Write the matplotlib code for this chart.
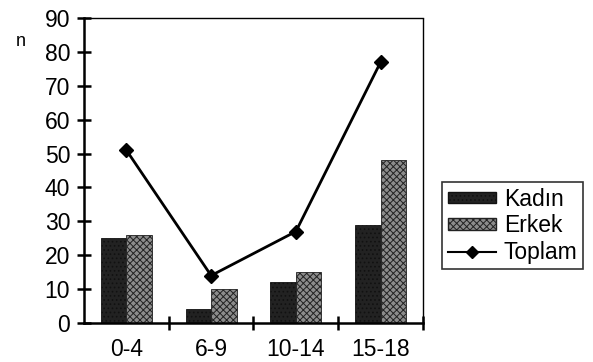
import matplotlib
matplotlib.use("Agg")
import matplotlib.pyplot as plt
import numpy as np
from matplotlib.lines import Line2D
from matplotlib.patches import Patch

categories = ["0-4", "6-9", "10-14", "15-18"]
kadin = [25, 4, 12, 29]
erkek = [26, 10, 15, 48]
toplam = [51, 14, 27, 77]
yticks = [0, 10, 20, 30, 40, 50, 60, 70, 80, 90]

plt.rcParams['font.family'] = ['Liberation Sans', 'DejaVu Sans']
plt.rcParams['hatch.linewidth'] = 0.7

K_FACE, K_EDGE, K_HATCH = '#222222', '#111111', '....'
E_FACE, E_EDGE, E_HATCH = '#8c8c8c', '#222222', 'xxxxx'
FS = 16.5

fig = plt.figure(figsize=(5.93, 3.62), dpi=100)
fig.patch.set_facecolor('white')
ax = fig.add_axes([84/593, 39/362, 339/593, 305/362])

x = np.arange(len(categories))
w = 0.3
ax.bar(x - w/2, kadin, width=w, color=K_FACE, edgecolor=K_EDGE, linewidth=0.6,
       hatch=K_HATCH, label='Kadın')
ax.bar(x + w/2, erkek, width=w, color=E_FACE, edgecolor=E_EDGE, linewidth=0.6,
       hatch=E_HATCH, label='Erkek')
ax.plot(x, toplam, color='black', linewidth=2.0, marker='D', markersize=7.5,
        label='Toplam')

ax.set_xlim(-0.5, 3.5)
ax.set_ylim(0, 90)
ax.set_yticks(yticks)
ax.set_xticks(x)
ax.set_xticklabels(categories)
ax.set_xticks([0.5, 1.5, 2.5, 3.5], minor=True)
ax.tick_params(axis='x', which='major', length=0, pad=11, labelsize=FS)
ax.tick_params(axis='x', which='minor', length=10, width=1.8, direction='inout')
ax.tick_params(axis='y', length=10, width=1.8, direction='inout', labelsize=FS, pad=5)

for s in ['left', 'bottom']:
    ax.spines[s].set_linewidth(1.8)
for s in ['top', 'right']:
    ax.spines[s].set_linewidth(1.0)
    ax.spines[s].set_linestyle((0, (1, 1)))

fig.text(21/593, 1 - 41/362, 'n', fontsize=13, ha='center', va='center')

handles = [Patch(facecolor=K_FACE, edgecolor=K_EDGE, hatch=K_HATCH, label='Kadın'),
           Patch(facecolor=E_FACE, edgecolor=E_EDGE, hatch=E_HATCH, label='Erkek'),
           Line2D([0], [0], color='black', linewidth=1.5, marker='D', markersize=6.5, label='Toplam')]
leg = fig.legend(handles=handles, loc='upper left', bbox_to_anchor=(442/593, 1 - 182/362),
                 fontsize=FS, frameon=True, fancybox=False, edgecolor='black',
                 handlelength=2.1, handleheight=0.4, handletextpad=0.35,
                 labelspacing=0.15, borderpad=0.25, borderaxespad=0)
leg.get_frame().set_linewidth(1.2)

fig.savefig('out.png', dpi=100)
